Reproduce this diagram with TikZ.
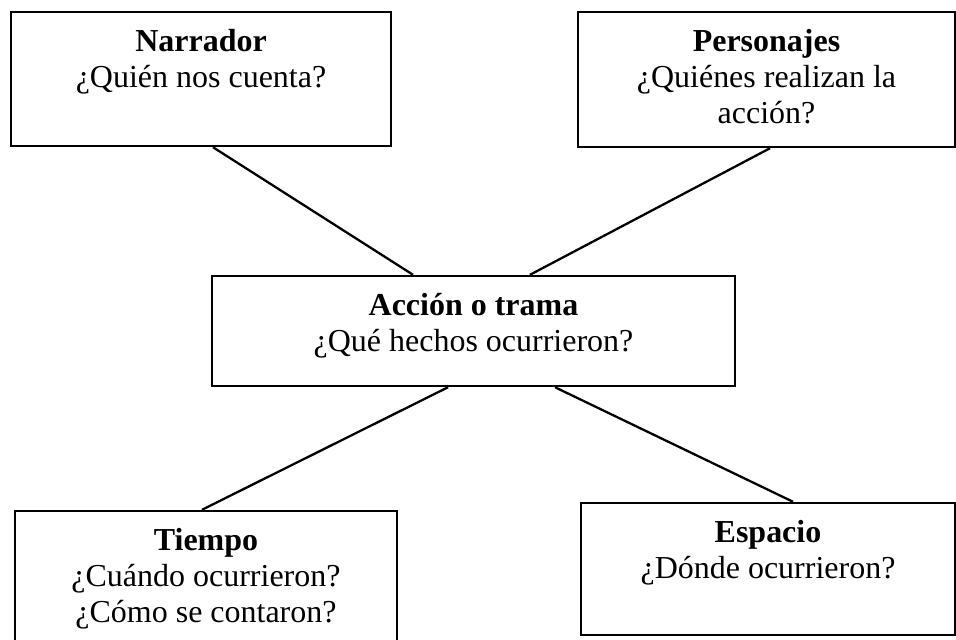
\documentclass[tikz,border=0pt]{standalone}
\usepackage{fontspec}
\setmainfont{Liberation Serif}
\usepackage{tikz}
\usetikzlibrary{positioning, calc}

\begin{document}
\begin{tikzpicture}[
    box/.style={rectangle, draw=black, line width=1.4pt, minimum width=#1, inner sep=0pt},
    boxtext/.style={anchor=north, align=center, inner sep=0pt, font=\fontsize{18.2}{20.5}\selectfont},
    link/.style={draw=black, line width=1.3pt},
]
\useasboundingbox (0,0) rectangle (19.12,12.78);

\node[box=7.6cm, minimum height=2.68cm] (narr) at (4.02,11.2) {};
\node[box=7.54cm, minimum height=2.7cm] (pers) at (15.33,11.19) {};
\node[box=10.46cm, minimum height=2.2cm] (acc) at (9.47,6.16) {};
\node[box=7.64cm, minimum height=2.68cm] (tiem) at (4.12,1.22) {};
\node[box=7.48cm, minimum height=2.64cm] (esp) at (15.36,1.4) {};

\node[boxtext, below=0.3cm of narr.north] (narrt) {\strut\textbf{Narrador}\\¿Quién nos cuenta?};
\node[boxtext, below=0.3cm of pers.north] (perst) {\strut\textbf{Personajes}\\¿Quiénes realizan la\\acción?};
\node[boxtext, below=0.3cm of acc.north] (acct) {\strut\textbf{Acción o trama}\\¿Qué hechos ocurrieron?};
\node[boxtext, below=0.3cm of tiem.north] (tiemt) {\strut\textbf{Tiempo}\\¿Cuándo ocurrieron?\\¿Cómo se contaron?};
\node[boxtext, below=0.3cm of esp.north] (espt) {\strut\textbf{Espacio}\\¿Dónde ocurrieron?};

\draw[link] ($(narr.south)+(0.24,0)$) -- ($(acc.north)+(-1.21,0)$);
\draw[link] ($(pers.south)+(0.07,0)$) -- ($(acc.north)+(1.13,0)$);
\draw[link] ($(acc.south)+(-0.51,0)$) -- ($(tiem.north)+(-0.08,0)$);
\draw[link] ($(acc.south)+(1.63,0)$) -- ($(esp.north)+(0.5,0)$);

\end{tikzpicture}
\end{document}
